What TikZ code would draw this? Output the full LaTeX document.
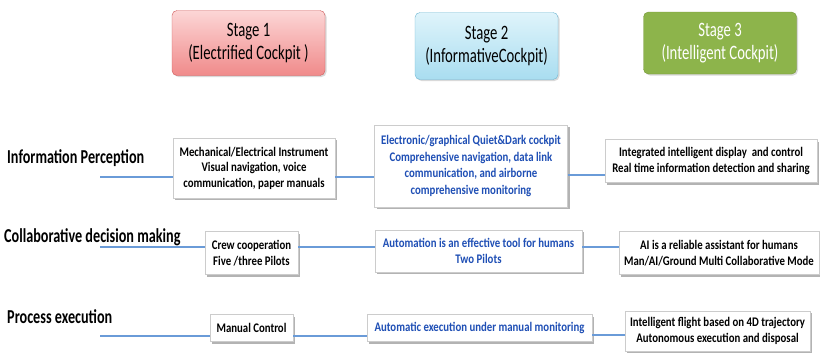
\documentclass[tikz,border=0pt]{standalone}
\usepackage{fontspec}
\setmainfont{Carlito}[FakeStretch=0.82]
\newfontfamily\tallfont{Carlito}[FakeStretch=0.72]
\usepackage{xcolor}
\usepackage{tikz}
\usetikzlibrary{shadows}

\definecolor{oneTop}{HTML}{FCD6D6}
\definecolor{oneBot}{HTML}{F08A8A}
\definecolor{oneLine}{HTML}{D05A5A}
\definecolor{twoTop}{HTML}{DFF4FB}
\definecolor{twoBot}{HTML}{A9DDF0}
\definecolor{twoLine}{HTML}{6FB6D2}
\definecolor{threeFill}{HTML}{8DB44B}
\definecolor{threeLine}{HTML}{76983A}
\definecolor{blueText}{HTML}{1F4FB5}
\definecolor{linkBlue}{HTML}{6A9BD8}

\tikzset{
  stage/.style={rounded corners=5bp, minimum width=153bp, minimum height=65bp,
    align=center, font=\tallfont\fontsize{20.5}{23}\selectfont,
    drop shadow={shadow xshift=1.5bp, shadow yshift=-1.5bp, opacity=0.3}},
  cell/.style={draw=black!20, fill=white, align=center, inner sep=2bp,
    font=\bfseries\fontsize{13.2}{15.5}\selectfont,
    drop shadow={shadow xshift=2bp, shadow yshift=-2bp, fill=black!50, opacity=0.6}},
  rowlabel/.style={anchor=west, inner sep=0pt, font=\tallfont\bfseries\fontsize{19.8}{22}\selectfont},
  link/.style={draw=linkBlue, line width=1.1bp}
}

\begin{document}
\begin{tikzpicture}[x=1bp, y=-1bp]
        \useasboundingbox (0,0) rectangle (820,354);

        % stage headers
        \node[stage, draw=oneLine, top color=oneTop, bottom color=oneBot] (S1) at (248.5,43) {Stage 1\\(Electrified Cockpit )};
        \node[stage, draw=twoLine, top color=twoTop, bottom color=twoBot, minimum width=143bp, minimum height=67bp] (S2) at (486.5,46) {Stage 2\\(InformativeCockpit)};
        \node[stage, draw=threeLine, fill=threeFill, text=white, minimum height=62bp] (S3) at (720,43) {Stage 3\\(Intelligent Cockpit)};

        % row labels
        \node[rowlabel] (L1) at (7,158) {Information Perception};
        \node[rowlabel] (L2) at (4,237) {Collaborative decision making};
        \node[rowlabel] (L3) at (7,317) {Process execution};

        % information perception
        \node[cell, minimum width=162bp, minimum height=60bp] (A) at (254,168) {Mechanical/Electrical Instrument\\Visual navigation, voice\\communication, paper manuals};
        \node[cell, text=blueText, minimum width=193bp, minimum height=82bp, font=\bfseries\fontsize{13.2}{16.5}\selectfont] (B) at (471,166) {Electronic/graphical Quiet\&Dark cockpit\\Comprehensive navigation, data link\\communication, and airborne\\comprehensive monitoring};
        \node[cell, minimum width=212bp, minimum height=43bp] (C) at (711,161) {Integrated intelligent display\ \ and control\\Real time information detection and sharing};

        % collaborative decision making
        \node[cell, minimum width=93bp, minimum height=43bp] (D) at (251.5,253) {Crew cooperation\\Five /three Pilots};
        \node[cell, text=blueText, minimum width=207bp, minimum height=42bp] (E) at (478.5,251) {Automation is an effective tool for humans\\Two Pilots};
        \node[cell, minimum width=200bp, minimum height=43bp] (F) at (719,253) {AI is a reliable assistant for humans\\Man/AI/Ground Multi Collaborative Mode};

        % process execution
        \node[cell, minimum width=83bp, minimum height=27bp] (G) at (251.5,328) {Manual Control};
        \node[cell, text=blueText, minimum width=225bp, minimum height=27bp] (H) at (479.5,328) {Automatic execution under manual monitoring};
        \node[cell, minimum width=185bp, minimum height=40bp] (I) at (717.5,331) {Intelligent flight based on 4D trajectory\\Autonomous execution and disposal};

        \coordinate (r1) at (100,177);
        \coordinate (r1b) at (100,175);
        \coordinate (r2) at (100,247);
        \coordinate (r3) at (100,336);
        \coordinate (r3b) at (100,335);

        \path[link]
          (r1) -- (A.west |- r1)
          (A.east |- r1) -- (B.west |- r1)
          (B.east |- r1b) -- (C.west |- r1b)
          (r2) -- (D.west |- r2)
          (D.east |- r2) -- (E.west |- r2)
          (E.east |- r2) -- (F.west |- r2)
          (r3) -- (G.west |- r3)
          (G.east |- r3) -- (H.west |- r3)
          (H.east |- r3b) -- (I.west |- r3b);
  \end{tikzpicture}
\end{document}
